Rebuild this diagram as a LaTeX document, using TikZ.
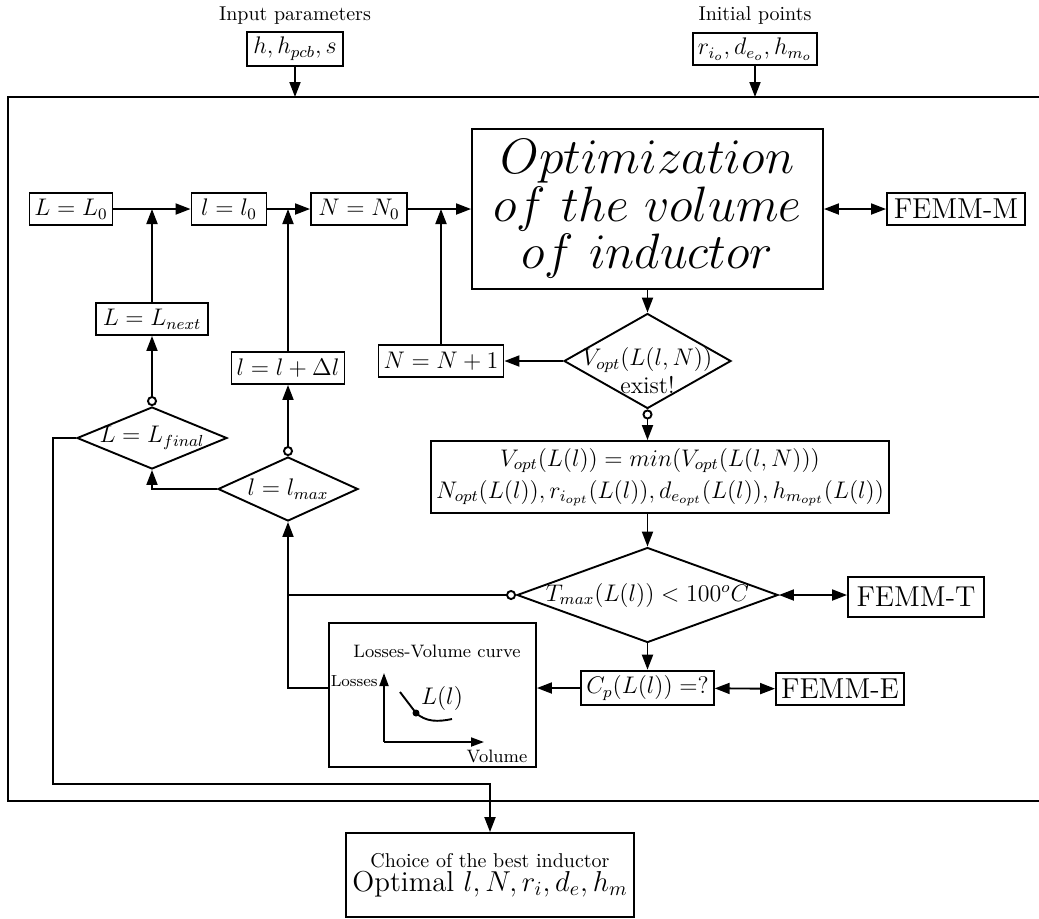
\documentclass[tikz,border=0pt]{standalone}
\usepackage{amsmath}
\usetikzlibrary{
  arrows.meta,
  shapes.geometric,
  positioning,
  calc
}
\tikzset{
  lw/.style={line width=0.95pt},
  blk/.style={draw, lw, font=\large, inner sep=2.5pt, minimum height=16pt},
  bigbox/.style={draw, lw, align=center},
  femm/.style={draw, lw, font=\Large, inner sep=2.5pt, minimum height=16pt},
  decision/.style={diamond, draw, lw, inner sep=0pt},
  dtext/.style={font=\large, align=center},
  flow/.style={-{Triangle[length=7.5pt, width=5.5pt]}, lw},
  outflow/.style={{Circle[open, length=5pt]}-{Triangle[length=7.5pt, width=5.5pt]}, lw},
  both/.style={{Triangle[length=7.5pt, width=5.5pt]}-{Triangle[length=7.5pt, width=5.5pt]}, lw},
  wire/.style={lw},
  axis/.style={-{Triangle[length=6.5pt, width=4.5pt]}, lw}
}
\begin{document}
\begin{tikzpicture}[x=0.5pt, y=-0.5pt]
  \useasboundingbox (0,0) rectangle (1039,918);
  % inputs on top
  \node[blk, minimum width=48pt] (hin) at (295,49) {$h, h_{pcb}, s$};
  \node[above=0pt of hin] (hintxt) {Input parameters};
  \node[blk, minimum width=59.5pt] (rin) at (755,49) {$r_{i_o}, d_{e_o}, h_{m_o}$};
  \node[above=0pt of rin] (rintxt) {Initial points};
  \coordinate (ftop) at (8,97);
  \draw[wire] (1039,97) -| (8,801) -- (1039,801);
  \draw[flow] (hin) -- (hin |- ftop);
  \draw[flow] (rin) -- (rin |- ftop);

  % first row
  \node[blk, minimum width=41pt] (L0) at (71,209) {$L=L_0$};
  \node[blk, minimum width=37.5pt] (l0) at (229,209) {$l=l_0$};
  \node[blk, minimum width=48pt] (N0) at (359,209) {$N=N_0$};
  \node[bigbox, minimum width=175.5pt, minimum height=80pt,
    font=\fontsize{24.88}{23.75}\selectfont] (opt) at (647.5,209)
    {$Optimization$\\$of\ the\ volume$\\$of\ inductor$};
  \node[femm, minimum width=69pt] (femmM) at (956,209) {FEMM-M};

  % loops
  \node[blk, minimum width=56pt] (Lnext) at (152,319) {$L=L_{next}$};
  \node[blk, minimum width=56.5pt] (lnext) at (288,368) {$l=l+\Delta l$};
  \node[blk, minimum width=60pt] (Nnext) at (441,361) {$N=N+1$};
  \node[decision, minimum width=75pt, minimum height=31pt,
    label={[dtext]center:$L=L_{final}$}] (Lfinal) at (152,438) {};
  \node[decision, minimum width=70pt, minimum height=32pt,
    label={[dtext]center:$l=l_{max}$}] (lmax) at (288,489) {};
  \node[decision, minimum width=83.5pt, minimum height=47.5pt,
    label={[dtext, yshift=-5pt]center:{$V_{opt}(L(l,N))$\\exist!}}] (exist) at (647.5,361) {};

  % right column
  \node[blk, align=center, minimum width=228pt, minimum height=36pt] (vopt) at (660,477)
    {$V_{opt}(L(l)) = min(V_{opt}(L(l,N)))$\\[2pt]
     $N_{opt}(L(l)), r_{i_{opt}}(L(l)), d_{e_{opt}}(L(l)), h_{m_{opt}}(L(l))$};
  \node[decision, minimum width=130.5pt, minimum height=47.5pt,
    label={[dtext]center:$T_{max}(L(l)) < 100^oC$}] (tmax) at (647.5,595) {};
  \node[femm, minimum width=68pt, minimum height=20pt] (femmT) at (916,597) {FEMM-T};
  \node[blk, minimum width=64.5pt] (cp) at (647.5,688) {$C_p(L(l)) =?$};
  \node[femm, minimum width=64pt] (femmE) at (840,689) {FEMM-E};

  % losses-volume curve
  \node[draw, lw, minimum width=103.5pt, minimum height=72pt] (lvbox) at (432.5,695) {};
  \node[font=\small] (lvtitle) at (437,651) {Losses-Volume curve};
  \coordinate (orig) at (384,742);
  \draw[axis] (orig) -- (384,673);
  \draw[axis] (orig) -- (484,742);
  \node[font=\footnotesize, anchor=east, inner sep=1pt] (losses) at (380,681) {Losses};
  \node[font=\small] (volume) at (497,756) {Volume};
  \draw[lw] (400,692) -- (416,713) .. controls (426,722) and (438,722) .. (452,719);
  \fill (416,713) circle (1.75pt);
  \node[font=\large] (Ll) at (442,698) {$L(l)$};

  % result
  \node[bigbox, minimum width=140.5pt, minimum height=42pt] (choice) at (490,875)
    {Choice of the best inductor\\{\Large Optimal $l, N, r_i, d_e, h_m$}};
  \coordinate (cl) at (53,784);

  % connectors
  \draw[flow] (L0) -- (l0);
  \draw[flow] (l0) -- (N0);
  \draw[flow] (N0) -- (opt);
  \draw[both] (opt) -- (femmM);
  \draw[flow] (Lnext.north) -- (Lnext.north |- L0.east);
  \draw[flow] (lnext.north) -- (lnext.north |- l0.east);
  \draw[flow] (Nnext.north) -- (Nnext.north |- N0.east);
  \draw[outflow] (Lfinal.north) -- (Lnext.south);
  \draw[outflow] (lmax.north) -- (lnext.south);
  \draw[flow] (lmax.west) -| (Lfinal.south);
  \draw[flow] (Lfinal.west) -| (cl) -| (choice.north);
  \draw[flow] (opt) -- (exist);
  \draw[flow] (exist) -- (Nnext);
  \draw[outflow] (exist.south) -- (exist.south |- vopt.north);
  \draw[flow] (vopt.south -| tmax.north) -- (tmax.north);
  \draw[outflow] (tmax.west) -| (lmax.south);
  \draw[both] (tmax.east) -- (tmax.east -| femmT.west);
  \draw[flow] (tmax.south) -- (cp.north);
  \draw[flow] (cp.west) -- (cp.west -| lvbox.east);
  \draw[wire] (lvbox.west |- cp.west) -| (lmax.south |- tmax.west);
  \draw[both] (cp) -- (femmE);
\end{tikzpicture}
\end{document}
